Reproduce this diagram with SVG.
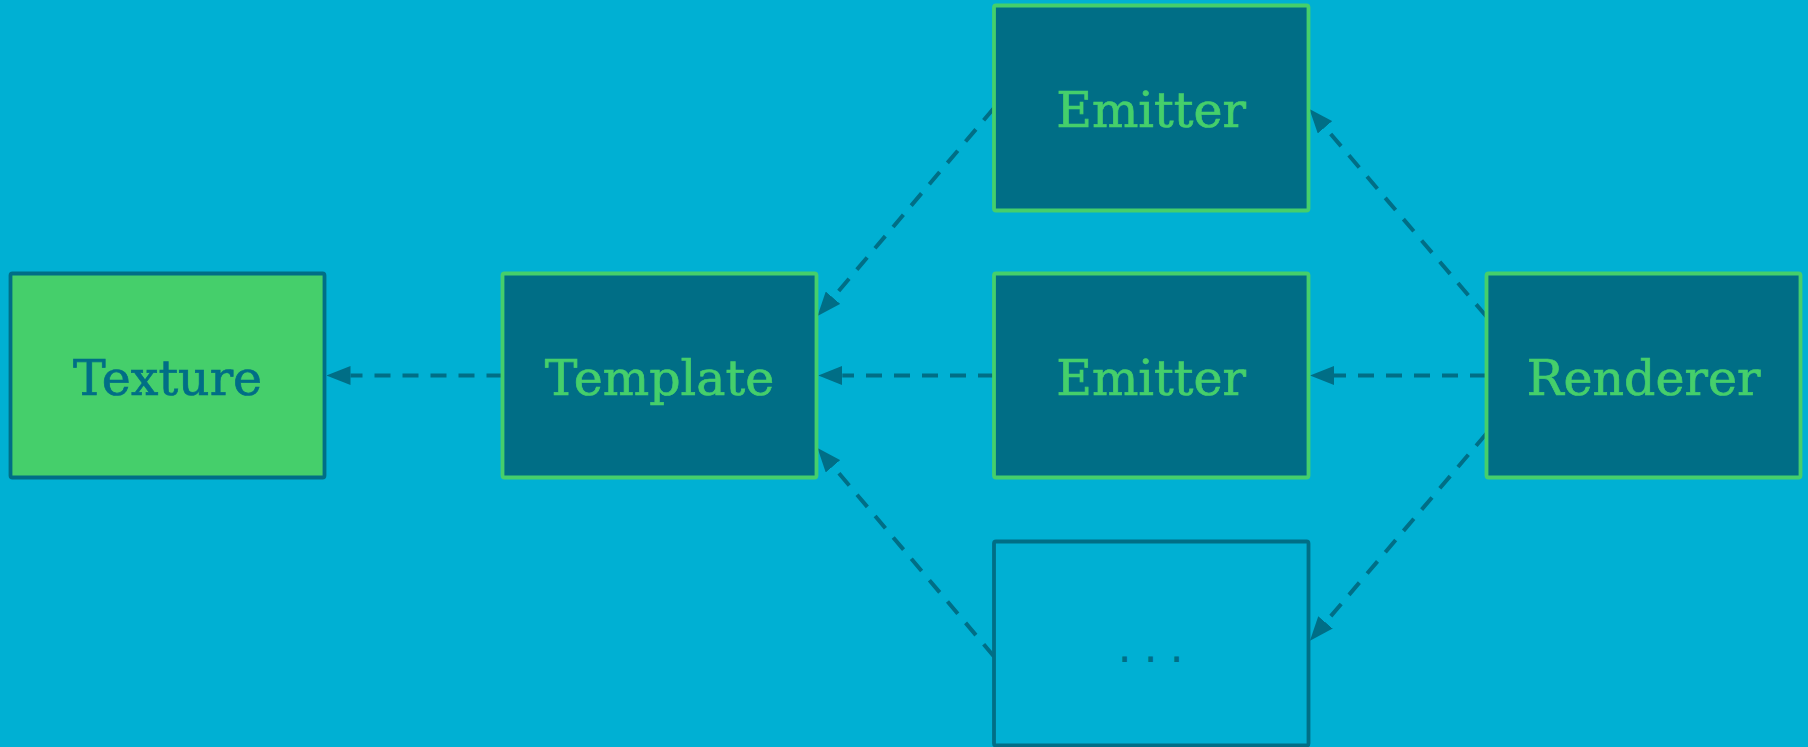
<svg xmlns="http://www.w3.org/2000/svg" width="1808" height="747" viewBox="0 0 1808 747">
  <style>
    .box { stroke-width: 3.8; }
    .dark { fill: #006e86; stroke: #45cf6b; }
    .light { fill: #45cf6b; stroke: #006e86; }
    .ghost { fill: #00b0d3; stroke: #006e86; }
    .label { font-family: "DejaVu Serif", "Liberation Serif", serif; font-size: 49px; text-anchor: middle; stroke-width: 0.7; }
    .dots { font-family: "DejaVu Sans", "Liberation Sans", sans-serif; font-size: 44px; text-anchor: middle; }
    .on-dark { fill: #45cf6b; stroke: #45cf6b; }
    .on-light { fill: #006e86; stroke: #006e86; }
    .dots.on-light { stroke: none; }
    .edge { fill: none; stroke: #006e86; stroke-width: 4; stroke-dasharray: 16 12; }
  </style>
  <defs>
    <!-- arrowhead: base sits on the end of the dashed line -->
    <marker id="arrow" markerUnits="userSpaceOnUse" viewBox="0 0 24 19" markerWidth="24" markerHeight="19" refX="0" refY="9.5" orient="auto">
      <path d="M0,0 L24,9.5 L0,19 Z" fill="#006e86"/>
    </marker>
  </defs>

  <rect x="0" y="0" width="1808" height="747" fill="#00b0d3"/>

  <g id="connectors">
    <path class="edge" marker-end="url(#arrow)" d="M502.5,375.5 L350.5,375.5"/>
    <path class="edge" marker-end="url(#arrow)" d="M994,375.5 L842.3,375.5"/>
    <path class="edge" marker-end="url(#arrow)" d="M1486,375.5 L1334,375.5"/>
    <path class="edge" marker-end="url(#arrow)" d="M994,108 L833,297.7"/>
    <path class="edge" marker-end="url(#arrow)" d="M994,656.5 L833,466.3"/>
    <path class="edge" marker-end="url(#arrow)" d="M1486.5,316.5 L1325,127.3"/>
    <path class="edge" marker-end="url(#arrow)" d="M1486.5,433.5 L1325.5,622.4"/>
  </g>

  <g id="texture">
    <rect class="box light" x="10.5" y="273.5" width="314" height="204" rx="2"/>
    <text class="label on-light" x="167.5" y="395">Texture</text>
  </g>

  <g id="template">
    <rect class="box dark" x="502.5" y="273.5" width="314" height="204" rx="2"/>
    <text class="label on-dark" x="659.5" y="395">Template</text>
  </g>

  <g id="emitter-top">
    <rect class="box dark" x="994" y="5.5" width="314.5" height="205" rx="2"/>
    <text class="label on-dark" x="1151" y="127">Emitter</text>
  </g>

  <g id="emitter-mid">
    <rect class="box dark" x="994" y="273.5" width="314.5" height="204" rx="2"/>
    <text class="label on-dark" x="1151" y="395">Emitter</text>
  </g>

  <g id="emitter-more">
    <rect class="box ghost" x="994" y="541.5" width="314.5" height="204" rx="2"/>
    <text class="dots on-light" x="1124.7 1150.7 1176.7" y="662">...</text>
  </g>

  <g id="renderer">
    <rect class="box dark" x="1486.5" y="273.5" width="314" height="204" rx="2"/>
    <text class="label on-dark" x="1643.5" y="395">Renderer</text>
  </g>
</svg>
